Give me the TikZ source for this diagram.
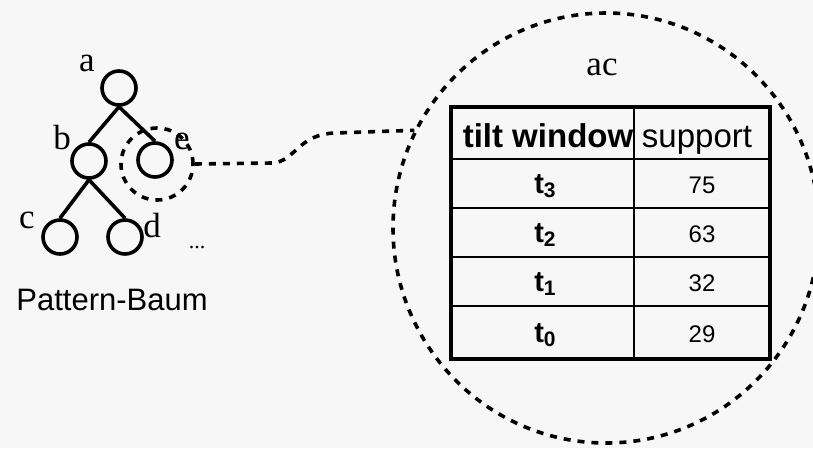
\documentclass[tikz,border=0pt]{standalone}
\usepackage{fontspec}
\setmainfont{Liberation Serif}
\setsansfont{Liberation Sans}
\usetikzlibrary{shapes.geometric}
\definecolor{bgc}{RGB}{247,247,247}
\begin{document}
\begin{tikzpicture}[x=1pt,y=-1pt,
 tnode/.style={circle,draw,line width=3.6pt,minimum size=34pt,inner sep=0pt},
 tedge/.style={line width=3.6pt},
 lbl/.style={font=\fontsize{35}{35}\selectfont,inner sep=0pt},
 dline/.style={line width=3.6pt,dash pattern=on 7pt off 7pt},
 hd/.style={font=\sffamily\fontsize{33}{33}\selectfont,inner sep=0pt,anchor=base},
 cell/.style={font=\sffamily\fontsize{24}{24}\selectfont,inner sep=0pt,anchor=base},
 tcell/.style={font=\sffamily\bfseries\fontsize{29}{29}\selectfont,inner sep=0pt,anchor=base},
]
\fill[bgc] (0,0) rectangle (813,448);
\useasboundingbox (0,0) rectangle (813,448);
% tree
\node[tnode] (a) at (119,88) {};
\node[tnode] (b) at (89,161) {};
\node[tnode] (e) at (155,160) {};
\node[tnode] (c) at (60,237) {};
\node[tnode] (d) at (125,237) {};
\draw[tedge] (a.south) -- (b.north);
\draw[tedge] (a.south) -- (e.north);
\draw[tedge] (b.south) -- (c.north);
\draw[tedge] (b.south) -- (d.north);
\node[lbl] (la) at (87,63) {a};
\node[lbl] (lb) at (62,138) {b};
\node[lbl] (le) at (182,141) {e};
\node[lbl] (lc) at (27,220) {c};
\node[lbl] (ld) at (152,226) {d};
\node[font=\fontsize{22}{22}\selectfont,inner sep=0pt] (dots) at (197,248) {...};
\node[font=\sffamily\fontsize{31}{31}\selectfont,inner sep=0pt,anchor=base] (pb) at (112,310) {Pattern-Baum};
% highlight and zoom circle
\node[circle,draw,dline,minimum size=72pt,inner sep=0pt] (ehl) at (157,164) {};
\node[ellipse,draw,dline,minimum width=426pt,minimum height=430pt,inner sep=0pt] (big) at (606,228) {};
\draw[dline] (ehl.east) -- (272,163) .. controls (295,162) and (298,134) .. (335,133) -- (big.153);
\node[lbl] (ac) at (602,67) {ac};
% table
\draw[line width=3.6pt] (451,107) rectangle (770,359);
\draw[line width=2pt] (634,107) -- (634,359);
\foreach \y in {159,208,257,306} \draw[line width=2pt] (451,\y) -- (770,\y);
\node[hd,font=\sffamily\bfseries\fontsize{33}{33}\selectfont] (h1) at (548,147) {tilt window};
\node[hd] (h2) at (697,147) {support};
\node[tcell] (t3) at (545,193) {t\raisebox{-4pt}{\fontsize{21}{21}\selectfont 3}};
\node[tcell] (t2) at (545,242) {t\raisebox{-4pt}{\fontsize{21}{21}\selectfont 2}};
\node[tcell] (t1) at (545,291) {t\raisebox{-4pt}{\fontsize{21}{21}\selectfont 1}};
\node[tcell] (t0) at (545,342) {t\raisebox{-4pt}{\fontsize{21}{21}\selectfont 0}};
\node[cell] (v3) at (702,193) {75};
\node[cell] (v2) at (702,242) {63};
\node[cell] (v1) at (702,291) {32};
\node[cell] (v0) at (702,342) {29};
\end{tikzpicture}
\end{document}
